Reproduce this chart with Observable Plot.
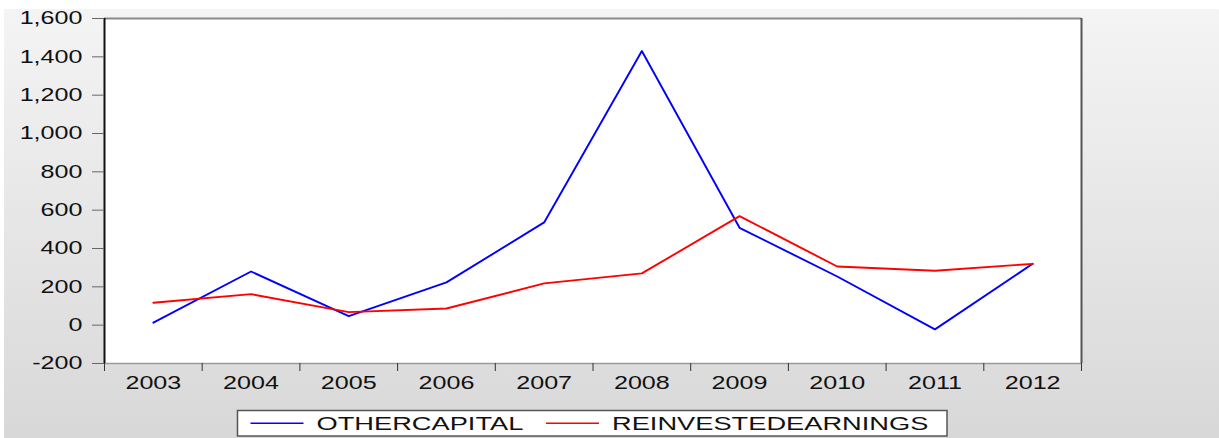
<!DOCTYPE html>
<html>
<head>
<meta charset="utf-8">
<script src="https://cdn.jsdelivr.net/npm/d3@7"></script>
<script src="https://cdn.jsdelivr.net/npm/@observablehq/plot@0.6"></script>
<style>
  html, body { margin: 0; padding: 0; background: #ffffff; }
  #wrap { position: relative; width: 1219px; height: 438px; overflow: hidden; }
  #panel { position: absolute; left: 4px; top: 9px; width: 1215px; height: 429px;
           background: linear-gradient(#f4f4f4, #d8d8d8); }
  #chart { position: absolute; left: 0; top: 0; }
  #legend { position: absolute; left: 0; top: 400px; }
  text { font-family: "Liberation Sans", Arial, sans-serif; }
</style>
</head>
<body>
<div id="wrap">
  <div id="panel"></div>
  <div id="chart"></div>
  <div id="legend"></div>
</div>
<script>
// ---- data ----
const years = [2003, 2004, 2005, 2006, 2007, 2008, 2009, 2010, 2011, 2012];
const otherCapital = [13, 280, 47, 223, 536, 1430, 508, 254, -22, 320];
const reinvestedEarnings = [117, 162, 68, 87, 218, 270, 569, 306, 284, 320];
const seriesNames = ["OTHERCAPITAL", "REINVESTEDEARNINGS"];
const seriesColors = ["#0000ff", "#ff0000"];
const yTicks = [-200, 0, 200, 400, 600, 800, 1000, 1200, 1400, 1600];

const seriesValues = [otherCapital, reinvestedEarnings];
const tidy = [];
seriesNames.forEach((name, s) => {
  years.forEach((yr, i) => tidy.push({ series: name, year: yr, value: seriesValues[s][i] }));
});

const xDomain = [years[0] - 0.5, years[years.length - 1] + 0.5];
const yDomain = [yTicks[0], yTicks[yTicks.length - 1]];
const bounds = years.map(y => y - 0.5).concat([years[years.length - 1] + 0.5]);
const fmt = d => d.toLocaleString("en-US");

const plot = Plot.plot({
  width: 1219,
  height: 400,
  marginLeft: 104,
  marginRight: 138,
  marginTop: 18,
  marginBottom: 37,
  style: { background: "transparent", fontFamily: "'Liberation Sans', Arial, sans-serif", fontSize: "17.7px", color: "#111", overflow: "visible" },
  x: { type: "linear", domain: xDomain, label: null },
  y: { domain: yDomain, label: null },
  color: { domain: seriesNames, range: seriesColors },
  marks: [
    Plot.frame({ fill: "white", stroke: null }),
    Plot.lineY(tidy, { x: "year", y: "value", z: "series", stroke: "series", strokeWidth: 1.9 }),
    Plot.ruleY([yDomain[1]], { stroke: "#8a8a8a", strokeWidth: 2 }),
    Plot.ruleY([yDomain[0]], { stroke: "#9a9a9a", strokeWidth: 1.5 }),
    Plot.ruleX([xDomain[0]], { stroke: "#111", strokeWidth: 2 }),
    Plot.ruleX([xDomain[1]], { stroke: "#555", strokeWidth: 2 }),
    Plot.axisY({ ticks: yTicks, tickSize: 12, tickPadding: 10, tickFormat: fmt, stroke: "#666", fill: "#111", label: null }),
    Plot.axisX({ ticks: years, tickSize: 0, tickPadding: 13, tickFormat: d => String(d), fill: "#111", label: null }),
    Plot.axisX({ ticks: bounds, tickSize: 8, tickFormat: () => "", stroke: "#333", label: null })
  ]
});
document.getElementById("chart").appendChild(plot);

function stretch(root, factor) {
  root.querySelectorAll("text").forEach(t => {
    const w = t.getComputedTextLength();
    if (w > 0) {
      t.setAttribute("textLength", (w * factor).toFixed(2));
      t.setAttribute("lengthAdjust", "spacingAndGlyphs");
    }
  });
}
stretch(plot, 1.42);

// ---- legend ----
const NS = "http://www.w3.org/2000/svg";
const lg = document.createElementNS(NS, "svg");
lg.setAttribute("width", 1219);
lg.setAttribute("height", 38);
const box = document.createElementNS(NS, "rect");
box.setAttribute("x", 237.5); box.setAttribute("y", 10.5);
box.setAttribute("width", 709.5); box.setAttribute("height", 25.5);
box.setAttribute("fill", "white"); box.setAttribute("stroke", "#555"); box.setAttribute("stroke-width", 1.5);
lg.appendChild(box);
const itemX = [250.5, 546];
seriesNames.forEach((name, i) => {
  const ln = document.createElementNS(NS, "line");
  ln.setAttribute("x1", itemX[i]); ln.setAttribute("x2", itemX[i] + 53);
  ln.setAttribute("y1", 23.3); ln.setAttribute("y2", 23.3);
  ln.setAttribute("stroke", seriesColors[i]); ln.setAttribute("stroke-width", 1.6);
  lg.appendChild(ln);
  const tx = document.createElementNS(NS, "text");
  tx.setAttribute("x", itemX[i] + 66); tx.setAttribute("y", 23.3);
  tx.setAttribute("dy", "0.36em");
  tx.setAttribute("font-size", "17.7px");
  tx.setAttribute("fill", "#111");
  tx.textContent = name;
  lg.appendChild(tx);
});
document.getElementById("legend").appendChild(lg);
stretch(lg, 1.54);
</script>
</body>
</html>
